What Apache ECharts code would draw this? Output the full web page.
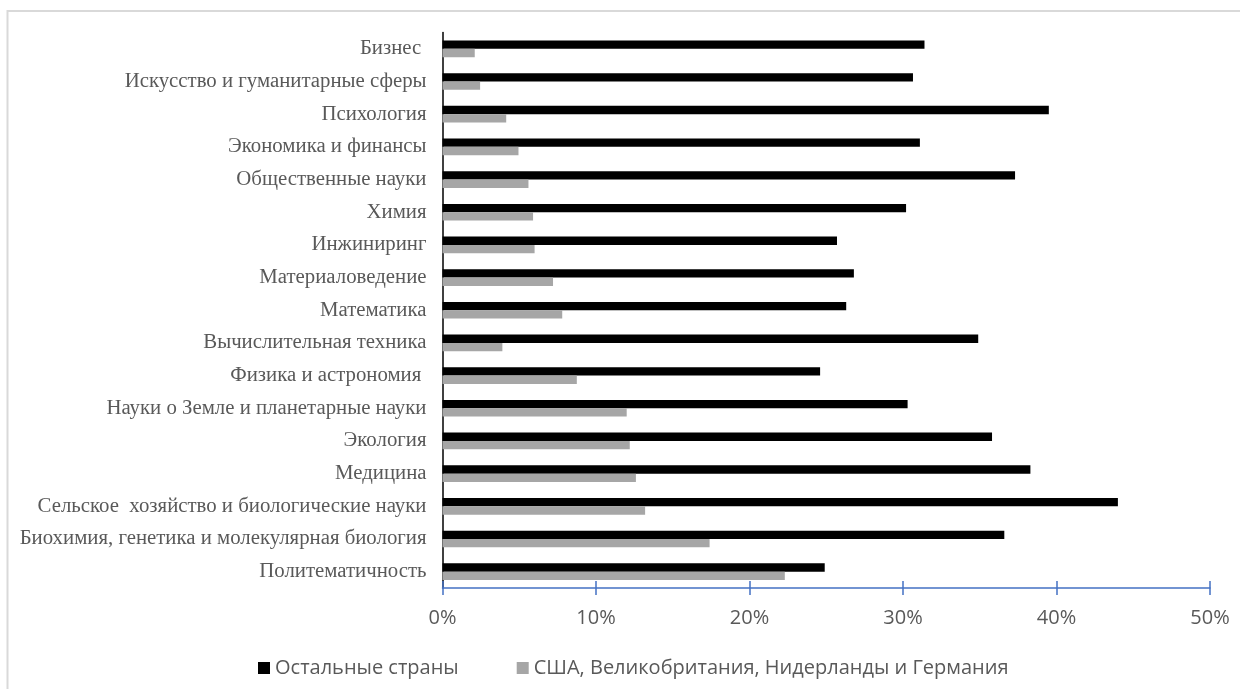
<!DOCTYPE html>
<html>
<head>
<meta charset="utf-8">
<script src="https://cdn.jsdelivr.net/npm/echarts@6/dist/echarts.min.js"></script>
<style>
html,body{margin:0;padding:0;background:#fff;}
#chart{width:1240px;height:689px;}
</style>
</head>
<body>
<div id="chart"></div>
<script>
const categories = [
  'Бизнес ',
  'Искусство и гуманитарные сферы',
  'Психология',
  'Экономика и финансы',
  'Общественные науки',
  'Химия',
  'Инжиниринг',
  'Материаловедение',
  'Математика',
  'Вычислительная техника',
  'Физика и астрономия ',
  'Науки о Земле и планетарные науки',
  'Экология',
  'Медицина',
  'Сельское  хозяйство и биологические науки',
  'Биохимия, генетика и молекулярная биология',
  'Политематичность'
];
const seriesNames = ['Остальные страны', 'США, Великобритания, Нидерланды и Германия'];
const otherCountries = [31.4, 30.65, 39.5, 31.1, 37.3, 30.2, 25.7, 26.8, 26.3, 34.9, 24.6, 30.3, 35.8, 38.3, 44.0, 36.6, 24.9];
const topFour = [2.1, 2.45, 4.15, 4.95, 5.6, 5.9, 6.0, 7.2, 7.8, 3.9, 8.75, 12.0, 12.2, 12.6, 13.2, 17.4, 22.3];
const xTicks = [0, 10, 20, 30, 40, 50];

const chart = echarts.init(document.getElementById('chart'), null, {renderer: 'canvas'});
const labelColor = '#595959';
const sans = '"Open Sans", "Noto Sans", sans-serif';
const xAxisBase = {
  type: 'value', min: xTicks[0], max: xTicks[xTicks.length - 1], interval: 10,
  splitLine: {show: false}
};
chart.setOption({
  animation: false,
  backgroundColor: '#fff',
  graphic: [{
    type: 'rect', silent: true,
    shape: {x: 7.5, y: 11, width: 1250, height: 700},
    style: {fill: 'none', stroke: '#d9d9d9', lineWidth: 2}
  }],
  grid: {left: 442.5, right: 30, top: 32.5, bottom: 101, containLabel: false},
  legend: {
    top: 653, left: 253,
    itemWidth: 12, itemHeight: 12, itemGap: 58,
    icon: 'rect',
    textStyle: {color: labelColor, fontFamily: sans, fontSize: 20},
    data: seriesNames
  },
  xAxis: [
    Object.assign({}, xAxisBase, {
      position: 'bottom',
      axisLine: {show: true, lineStyle: {color: '#4472C4', width: 1.5}},
      axisTick: {show: true, length: 7, lineStyle: {color: '#4472C4', width: 1.5}},
      axisLabel: {
        color: labelColor, fontFamily: sans, fontSize: 20, margin: 20,
        formatter: v => v + '%'
      }
    }),
    Object.assign({}, xAxisBase, {
      position: 'bottom',
      axisLine: {show: false},
      axisTick: {show: true, inside: true, length: 7, lineStyle: {color: '#4472C4', width: 1.5}},
      axisLabel: {show: false}
    })
  ],
  yAxis: {
    type: 'category', inverse: true, data: categories,
    axisLine: {show: true, lineStyle: {color: '#000', width: 1.5}},
    axisTick: {show: false},
    axisLabel: {color: labelColor, fontFamily: '"Liberation Serif", "DejaVu Serif", serif', fontSize: 20.8, margin: 16}
  },
  series: [
    {
      name: seriesNames[0], type: 'bar', xAxisIndex: 0, data: otherCountries,
      barGap: '0%', barCategoryGap: '49%',
      itemStyle: {color: '#000000'}
    },
    {
      name: seriesNames[1], type: 'bar', xAxisIndex: 0, data: topFour,
      barGap: '0%', barCategoryGap: '49%',
      itemStyle: {color: '#a6a6a6'}
    }
  ]
});
</script>
</body>
</html>
